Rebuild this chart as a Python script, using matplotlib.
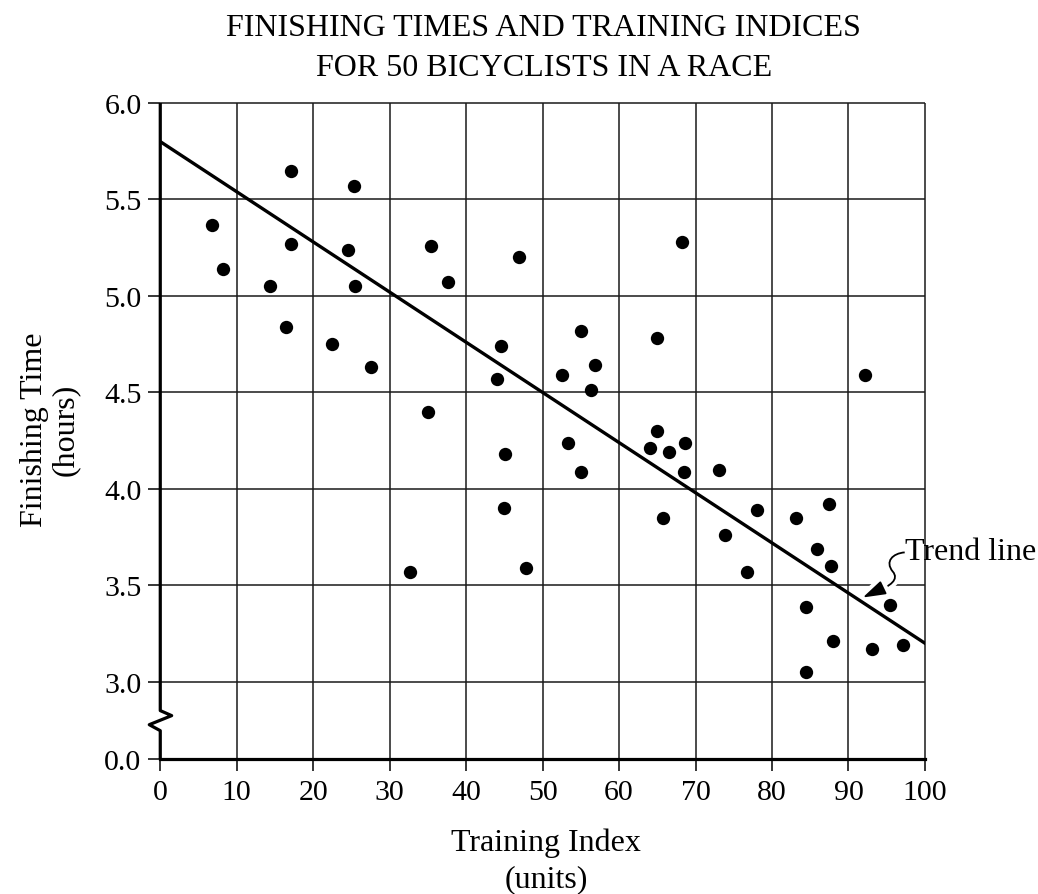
import numpy as np
import matplotlib.pyplot as plt
from matplotlib.path import Path
from matplotlib.patches import PathPatch
import matplotlib.patheffects as pe

plt.rcParams['font.family'] = ['Liberation Serif', 'DejaVu Serif']

# data
train_index = [6.8, 8.2, 14.3, 16.4, 17.1, 17.1, 22.4, 24.5, 25.3, 25.5,
               27.6, 32.6, 35.0, 35.4, 37.6, 44.1, 44.5, 45.0, 45.1, 46.9,
               47.8, 52.6, 53.3, 55.0, 55.0, 56.3, 56.9, 64.1, 64.9, 65.0,
               65.7, 66.5, 68.2, 68.5, 68.6, 73.1, 73.8, 76.7, 78.0, 83.2,
               84.4, 84.5, 85.9, 87.4, 87.7, 88.0, 92.1, 93.1, 95.4, 97.1]
finish_time = [5.37, 5.14, 5.05, 4.84, 5.65, 5.27, 4.75, 5.24, 5.57, 5.05,
               4.63, 3.57, 4.40, 5.26, 5.07, 4.57, 4.74, 3.90, 4.18, 5.20,
               3.59, 4.59, 4.24, 4.82, 4.09, 4.51, 4.64, 4.21, 4.30, 4.78,
               3.85, 4.19, 5.28, 4.09, 4.24, 4.10, 3.76, 3.57, 3.89, 3.85,
               3.39, 3.05, 3.69, 3.92, 3.60, 3.21, 4.59, 3.17, 3.40, 3.19]
trend_x = [0, 100]
trend_y = [5.8, 3.2]
x_ticks = list(range(0, 101, 10))
y_tick_vals = [0.0, 3.0, 3.5, 4.0, 4.5, 5.0, 5.5, 6.0]


def to_axis(v):
    # broken axis: 0..3 squeezed into a short gap
    v = np.asarray(v, dtype=float)
    return np.where(v >= 3, v - 2.6, v * 0.4 / 3)


fig = plt.figure(figsize=(10.38, 8.95), dpi=100)
ax = fig.add_axes([0.1544, 0.1508, 0.7367, 0.7330])
ax.set_xlim(0, 100)
ax.set_ylim(0, 3.4)

for s in ['left', 'top', 'right']:
    ax.spines[s].set_visible(False)
ax.spines['bottom'].set_linewidth(2.3)

# grid
ax.vlines(x_ticks[1:], 0, 3.4, color='#1a1a1a', lw=1.1, zorder=1, clip_on=False)
ax.hlines(to_axis(y_tick_vals[1:]), 0, 100, color='#1a1a1a', lw=1.1, zorder=1, clip_on=False)

# left axis with break
ax.plot([0, 0, 1.49, -1.44, 0, 0], [3.4, 0.251, 0.225, 0.178, 0.147, 0],
        color='black', lw=2.3, clip_on=False, zorder=5, solid_capstyle='butt')

ax.set_xticks(x_ticks)
ax.set_yticks(to_axis(y_tick_vals))
ax.set_yticklabels([f'{v:.1f}' for v in y_tick_vals])
ax.tick_params(axis='both', direction='out', length=8.5, width=1.1,
               labelsize=21.5, color='black')
ax.tick_params(axis='y', pad=5)
ax.tick_params(axis='x', pad=6)

ax.plot(trend_x, to_axis(trend_y), color='black', lw=2.4, zorder=3)
ax.scatter(train_index, to_axis(finish_time), s=92, color='black',
           linewidths=0, zorder=4)

# wiggly arrow to the trend line
white = [pe.withStroke(linewidth=7, foreground='white')]
verts = [(97.35, 1.071), (95.78, 1.066), (94.73, 1.024), (95.78, 0.972),
         (96.69, 0.931), (95.39, 0.894), (93.81, 0.874)]
codes = [Path.MOVETO] + [Path.CURVE4] * 6
tail = PathPatch(Path(verts, codes), fill=False, lw=1.3, edgecolor='black',
                 zorder=2, path_effects=white)
ax.add_patch(tail)
ax.annotate('', xy=(91.86, 0.837), xytext=(93.81, 0.874),
            arrowprops=dict(arrowstyle='-|>,head_length=0.7,head_width=0.22',
                            mutation_scale=20, lw=1.3, color='black',
                            shrinkA=0, shrinkB=0, path_effects=white),
            zorder=2)
fig.text(905 / 1038, 1 - 560 / 895, 'Trend line', fontsize=23,
         ha='left', va='baseline')

# titles and labels
fig.text(0.524, 1 - 36 / 895, 'FINISHING TIMES AND TRAINING INDICES',
         fontsize=23, ha='center', va='baseline')
fig.text(0.524, 1 - 76 / 895, 'FOR 50 BICYCLISTS IN A RACE',
         fontsize=23, ha='center', va='baseline')
fig.text(0.526, 1 - 851 / 895, 'Training Index', fontsize=23,
         ha='center', va='baseline')
fig.text(0.526, 1 - 887 / 895, '(units)', fontsize=23,
         ha='center', va='baseline')
fig.text(42 / 1038, 1 - 430 / 895, 'Finishing Time', fontsize=23, rotation=90,
         rotation_mode='anchor', ha='center', va='baseline')
fig.text(73 / 1038, 1 - 430 / 895, '(hours)', fontsize=23, rotation=90,
         rotation_mode='anchor', ha='center', va='baseline')

fig.savefig('out.png', dpi=100)
